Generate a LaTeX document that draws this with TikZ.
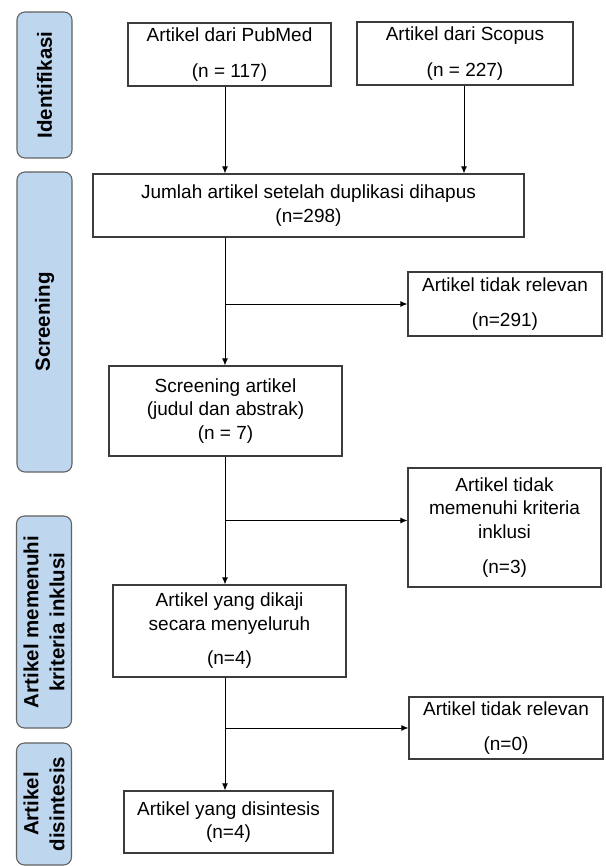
\documentclass[tikz,border=0pt]{standalone}
\usepackage{fontspec}
\setmainfont{Liberation Sans}
\usetikzlibrary{arrows.meta, positioning, calc}
\definecolor{barblue}{RGB}{190,214,238}
\definecolor{edgegray}{RGB}{60,60,60}
\tikzset{
  prisma/.style={
	x=1pt, y=-1pt, % pixel-like units, y grows downwards
	line width=1.1pt,
	every node/.style={font=\fontsize{19}{23.5}\selectfont, align=center, inner sep=0pt},
  },
  box/.style={draw=edgegray, fill=white}, % the white boxes of the flow
  phase/.style={draw=edgegray!80, fill=barblue, rounded corners=8pt, rotate=90,
	minimum height=55pt, font=\fontsize{20.5}{26}\selectfont\bfseries}, % the side bars
  arr/.style={-{Latex[length=7pt,width=6pt]}, draw=black, line width=1pt},
}
\begin{document}
\begin{tikzpicture}[prisma]
	  \useasboundingbox (0,0) rectangle (605,866);

	  % phases on the left
	  \node[phase, minimum width=146pt] (ident) at (44.5,85) {Identifikasi};
	  \node[phase, minimum width=300pt] (screen) at (44.5,322) {Screening};
	  \node[phase, minimum width=212pt] (inklusi) at (44,622) {Artikel memenuhi\\kriteria inklusi};
	  \node[phase, minimum width=122pt] (sintesis) at (44,804) {Artikel\\disintesis};

	  % main column
	  \node[box, minimum width=203pt, minimum height=63pt] (pubmed) at (229.5,54.5) {Artikel dari PubMed\\[12pt](n = 117)};
	  \node[box, minimum width=216pt, minimum height=63pt] (scopus) at (465,53.5) {Artikel dari Scopus\\[12pt](n = 227)};
	  \node[box, minimum width=431pt, minimum height=63pt] (jumlah) at (308.5,205.5) {Jumlah artikel setelah duplikasi dihapus\\(n=298)};
	  \node[box, minimum width=233pt, minimum height=90pt] (skrining) at (225.5,411) {Screening artikel\\(judul dan abstrak)\\(n = 7)};
	  \node[box, minimum width=233pt, minimum height=92pt] (dikaji) at (229.5,631) {Artikel yang dikaji\\secara menyeluruh\\[11pt](n=4)};
	  \node[box, minimum width=209pt, minimum height=62pt] (disintesis) at (228.5,822) {Artikel yang disintesis\\(n=4)};

	  % excluded on the right
	  \node[box, minimum width=194pt, minimum height=64pt] (relevan) at (505,304) {Artikel tidak relevan\\[12pt](n=291)};
	  \node[box, minimum width=193pt, minimum height=119pt] (memenuhi) at (504.5,527.5) {Artikel tidak\\memenuhi kriteria\\inklusi\\[12pt](n=3)};
	  \node[box, minimum width=194pt, minimum height=62pt] (relevannol) at (506,728) {Artikel tidak relevan\\[12pt](n=0)};

	  \coordinate (trunk) at (225,0);
	  \coordinate (cabang) at ($(memenuhi.west)+(0,-7)$);

	  \draw[arr] (pubmed.south -| trunk) -- (jumlah.north -| trunk);
	  \draw[arr] (scopus.south -| 464,0) -- (jumlah.north -| 464,0);
	  \draw[arr] (jumlah.south -| trunk) -- (skrining.north -| trunk);
	  \draw[arr] (trunk |- relevan.west) -- (relevan.west);
	  \draw[arr] (skrining.south -| trunk) -- (dikaji.north -| trunk);
	  \draw[arr] (trunk |- cabang) -- (cabang);
	  \draw[arr] (dikaji.south -| trunk) -- (disintesis.north -| trunk);
	  \draw[arr] (trunk |- relevannol.west) -- (relevannol.west);
\end{tikzpicture}
\end{document}
